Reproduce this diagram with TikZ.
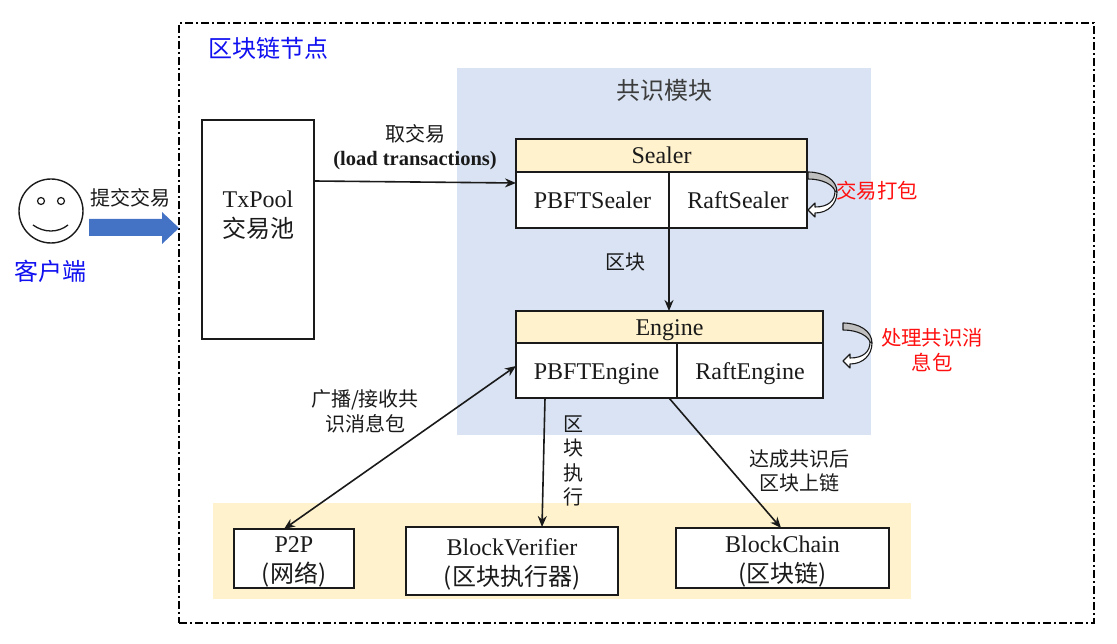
\documentclass[tikz,border=0pt]{standalone}
\usepackage{fontspec}
\setmainfont{Liberation Serif}
\newfontfamily\cjk{Noto Sans CJK SC}
\usetikzlibrary{arrows.meta}
\definecolor{ink}{HTML}{1A1A1A}
\definecolor{blockblue}{HTML}{D9E3F3}
\definecolor{paleyellow}{HTML}{FFF2CC}
\definecolor{arrowblue}{HTML}{4472C4}
\definecolor{titleblue}{HTML}{1010F0}
\definecolor{redlabel}{HTML}{FF1010}
\newcommand{\fsz}[2]{\fontsize{#1}{#2}\selectfont}
\newcommand{\lift}{\rule{0pt}{23pt}}
\tikzset{
  x=1pt,y=-1pt,
  boxbase/.style={draw=ink,line width=1.8pt,inner sep=0pt,outer sep=0pt,text=ink,align=center,font=\fsz{24}{30}},
  cell/.style={boxbase,fill=white},
  thickcell/.style={boxbase,fill=white,line width=2.6pt},
  header/.style={boxbase,fill=paleyellow},
  zone/.style={inner sep=0pt,outer sep=0pt},
  lbl/.style={inner sep=0pt,outer sep=0pt,text=ink,align=center,font=\cjk\fsz{20}{25}},
  redlbl/.style={lbl,text=redlabel,font=\cjk\fsz{20.4}{25}},
  conn/.style={draw=ink,line width=1.6pt,-{Stealth[length=11pt,width=9pt]}},
  biconn/.style={draw=ink,line width=1.6pt,{Stealth[length=11pt,width=9pt]}-{Stealth[length=11pt,width=9pt]}},
  loopgrey/.style={fill=black!25,draw=ink,line width=1.1pt,line join=round},
  loopwhite/.style={fill=white,draw=ink,line width=1.1pt,line join=round}
}
\newcommand{\loopmark}[1]{%
  \begin{scope}[shift={#1}]
    \path[loopwhite] (27,19) .. controls (27,29) and (20,35) .. (7,35) -- (7,31) -- (0,38) -- (7,45) -- (7,41) .. controls (20,41) and (29,32) .. (29,20) -- cycle;
    \path[loopgrey] (0,0) .. controls (16,0) and (29,8) .. (29,20) -- (27,19) .. controls (25,13) and (15,7) .. (0,7) -- cycle;
  \end{scope}}
\begin{document}
\begin{tikzpicture}
\useasboundingbox (0,0) rectangle (1117,644);
% zones
\node[zone,fill=blockblue,minimum width=414pt,minimum height=367pt] (consensus) at (664,251.5) {};
\node[zone,fill=paleyellow,minimum width=698pt,minimum height=96pt] (storage) at (562,551) {};
\node[zone,draw=black,line width=1.3pt,dash pattern=on 8pt off 3pt on 2pt off 3pt,minimum width=915pt,minimum height=600pt] (nodeframe) at (636.5,323) {};
% titles
\node[lbl,text=titleblue,font=\cjk\fsz{24}{26}] (nodetitle) at (268,48) {区块链节点};
\node[lbl,font=\cjk\fsz{24}{26},text=ink!85] (constitle) at (664,90) {共识模块};
% client
\node[draw=ink,line width=1.4pt,circle,minimum size=64pt,inner sep=0pt,outer sep=0pt] (face) at (51,211) {};
\node[draw=ink,line width=1.2pt,circle,minimum size=7pt,inner sep=0pt] (eyeL) at (41,201) {};
\node[draw=ink,line width=1.2pt,circle,minimum size=7pt,inner sep=0pt] (eyeR) at (61,201) {};
\draw[ink,line width=1.3pt] (33,225) .. controls (44,233) and (58,233) .. (68,225);
\node[lbl,text=titleblue,font=\cjk\fsz{24}{26}] (client) at (51,271) {客户端};
\node[lbl] (submit) at (130,198) {提交交易};
\path[fill=arrowblue] (89,219) -- (162,219) -- (162,212) -- (179,228) -- (162,244) -- (162,236) -- (89,236) -- cycle;
% txpool
\node[cell,minimum width=112pt,minimum height=219pt] (txpool) at (258,229.5) {};
\node[lbl,font=\fsz{24}{30}] (txpooltext) at (258,215) {TxPool\\{\cjk\fsz{24}{30}交易池}};
% sealer
\node[header,minimum width=291pt,minimum height=33pt] (sealer) at (661.5,155.5) {Sealer};
\node[cell,minimum width=153pt,minimum height=56pt] (pbftsealer) at (592.5,200) {PBFTSealer};
\node[cell,minimum width=138pt,minimum height=56pt] (raftsealer) at (738,200) {RaftSealer};
% engine
\node[header,minimum width=307pt,minimum height=32pt] (engine) at (669.5,327) {\lift Engine};
\node[thickcell,minimum width=161pt,minimum height=55pt] (pbftengine) at (596.5,370.5) {\lift PBFTEngine};
\node[cell,minimum width=146pt,minimum height=55pt] (raftengine) at (750,370.5) {\lift RaftEngine};
% bottom boxes
\node[cell,minimum width=120pt,minimum height=59pt] (p2p) at (294,558.5) {\lift P2P\\{\cjk\fsz{24}{30}(网络)}};
\node[cell,minimum width=212pt,minimum height=68pt] (verifier) at (512,561) {\lift BlockVerifier\\{\cjk\fsz{24}{30}(区块执行器)}};
\node[cell,minimum width=213pt,minimum height=60pt] (chain) at (782.5,558) {\lift BlockChain\\{\cjk\fsz{24}{30}(区块链)}};
% connectors
\coordinate (sealerW) at (516,183);
\coordinate (txE) at (314,181);
\draw[conn] (txE) -- (sealerW);
\coordinate (sealerS) at (669,228);
\coordinate (engineN) at (669,311);
\draw[conn] (sealerS) -- (engineN);
\coordinate (engW) at (516,366);
\coordinate (p2pN) at (284,529);
\draw[biconn] (engW) -- (p2pN);
\coordinate (engS) at (545,398);
\coordinate (verN) at (542,527);
\draw[conn] (engS) -- (verN);
\coordinate (engS2) at (669,398);
\coordinate (chainN) at (781,528);
\draw[conn] (engS2) -- (chainN);
% labels
\node[lbl] (load1) at (415,134) {取交易};
\node[lbl,font=\bfseries\fsz{20.5}{22}] (load2) at (415,161) {(load transactions)};
\node[lbl] (blocklbl) at (625,262) {区块};
\node[lbl] (bcast) at (365,411) {广播/接收共\\识消息包};
\node[lbl,font=\cjk\fsz{20}{24.5}] (exec) at (573,461) {区\\块\\执\\行};
\node[lbl,font=\cjk\fsz{20}{24}] (commit) at (799,471) {达成共识后\\区块上链};
\node[redlbl] (pack) at (877,191) {交易打包};
\node[redlbl] (proc) at (932,350) {处理共识消\\息包};
% loop arrows
\loopmark{(808,172)}
\loopmark{(843,323)}
\end{tikzpicture}
\end{document}
